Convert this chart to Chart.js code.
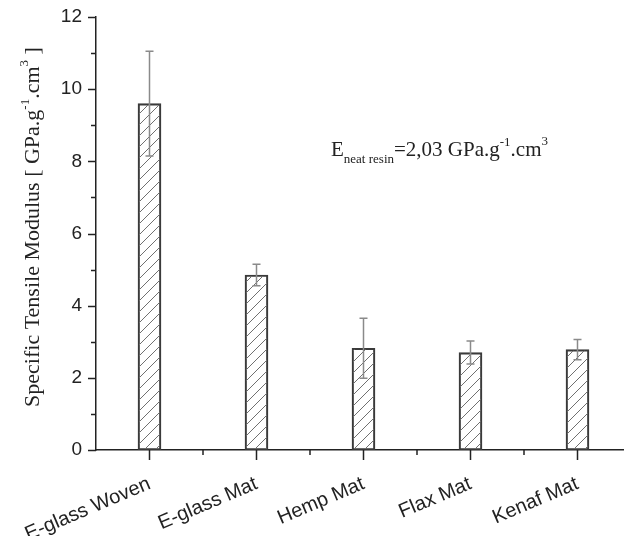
<!DOCTYPE html>
<html>
<head>
<meta charset="utf-8">
<script src="https://cdn.jsdelivr.net/npm/chart.js@4"></script>
<style>
  html, body { margin: 0; padding: 0; background: #fff; overflow: hidden; }
  #wrap { position: relative; width: 640px; height: 536px; }
</style>
</head>
<body>
<div id="wrap"><canvas id="modulusChart"></canvas></div>
<script>
// Chart data
const categories = ['E-glass Woven', 'E-glass Mat', 'Hemp Mat', 'Flax Mat', 'Kenaf Mat'];
const modulusValues = [9.6, 4.85, 2.82, 2.70, 2.78];
const modulusErrors = [1.45, 0.30, 0.83, 0.32, 0.28];
const yTickLabels = [0, 2, 4, 6, 8, 10, 12];

const axisColor = '#222';

// diagonal hatch for the bars
function makeHatch() {
    const s = 11;
    const c = document.createElement('canvas');
    c.width = s; c.height = s;
    const g = c.getContext('2d');
    g.strokeStyle = '#707070';
    g.lineWidth = 1;
    g.beginPath();
    g.moveTo(0, s); g.lineTo(s, 0);
    g.moveTo(-2, 2); g.lineTo(2, -2);
    g.moveTo(s - 2, s + 2); g.lineTo(s + 2, s - 2);
    g.stroke();
    return g.createPattern(c, 'repeat');
}

// error bars, axis ticks and the rich text (super/subscripts)
const extrasPlugin = {
    id: 'extras',
    afterDatasetsDraw(chart) {
        const ctx = chart.ctx;
        const y = chart.scales.y;
        const meta = chart.getDatasetMeta(0);
        ctx.save();
        ctx.strokeStyle = '#8a8a8a';
        ctx.lineWidth = 1.5;
        modulusValues.forEach((v, i) => {
            const x = meta.data[i].x;
            const yt = y.getPixelForValue(v + modulusErrors[i]);
            const yb = y.getPixelForValue(v - modulusErrors[i]);
            ctx.beginPath();
            ctx.moveTo(x, yt); ctx.lineTo(x, yb);
            ctx.moveTo(x - 4, yt); ctx.lineTo(x + 4, yt);
            ctx.moveTo(x - 4, yb); ctx.lineTo(x + 4, yb);
            ctx.stroke();
        });
        ctx.restore();
    },
    afterDraw(chart) {
        const ctx = chart.ctx;
        const area = chart.chartArea;
        const x = chart.scales.x;
        const y = chart.scales.y;
        ctx.save();
        ctx.strokeStyle = axisColor;
        ctx.lineWidth = 1.5;
        ctx.beginPath();
        // y ticks: major on labelled values, minor in between
        for (let v = 0; v <= 12; v++) {
            const py = Math.round(y.getPixelForValue(v)) + 0.5;
            const len = yTickLabels.includes(v) ? 8 : 5;
            ctx.moveTo(area.left - len, py); ctx.lineTo(area.left, py);
        }
        // x ticks: major on categories, minor on the boundaries
        const step = x.getPixelForValue(1) - x.getPixelForValue(0);
        categories.forEach((c, i) => {
            const px = x.getPixelForValue(i);
            ctx.moveTo(px, area.bottom); ctx.lineTo(px, area.bottom + 10);
            const bx = px + step / 2;
            ctx.moveTo(bx, area.bottom); ctx.lineTo(bx, area.bottom + 5);
        });
        ctx.stroke();

        ctx.fillStyle = '#222';
        ctx.textBaseline = 'alphabetic';
        const big = '22px "Liberation Serif", "Times New Roman", serif';
        const small = '13px "Liberation Serif", "Times New Roman", serif';
        const noteBig = '21px "Liberation Serif", "Times New Roman", serif';

        function runWidth(parts) {
            let w = 0;
            parts.forEach(p => { ctx.font = p.f; w += ctx.measureText(p.t).width; });
            return w;
        }
        function drawRun(parts, x0, base) {
            let cx = x0;
            parts.forEach(p => {
                ctx.font = p.f;
                ctx.fillText(p.t, cx, base + (p.dy || 0));
                cx += ctx.measureText(p.t).width;
            });
        }

        // y axis title, rotated
        const titleParts = [
            { t: 'Specific Tensile Modulus [ GPa.g', f: big },
            { t: '-1', f: small, dy: -10 },
            { t: '.cm', f: big },
            { t: '3', f: small, dy: -11 },
            { t: ' ]', f: big }
        ];
        ctx.save();
        ctx.translate(39, 227);
        ctx.rotate(-Math.PI / 2);
        drawRun(titleParts, -runWidth(titleParts) / 2, 0);
        ctx.restore();

        // annotation for the neat resin
        const noteParts = [
            { t: 'E', f: noteBig },
            { t: 'neat resin', f: small, dy: 7 },
            { t: '=2,03 GPa.g', f: noteBig },
            { t: '-1', f: small, dy: -10 },
            { t: '.cm', f: noteBig },
            { t: '3', f: small, dy: -11 }
        ];
        drawRun(noteParts, 331, 156);
        ctx.restore();
    }
};

document.addEventListener('DOMContentLoaded', function() {
    const ctx = document.getElementById('modulusChart').getContext('2d');
    const hatch = makeHatch();

    new Chart(ctx, {
        type: 'bar',
        data: {
            labels: categories,
            datasets: [{
                label: 'Specific Tensile Modulus',
                data: modulusValues,
                backgroundColor: hatch,
                borderColor: '#3a3a3a',
                borderWidth: 1.5,
                borderSkipped: false,
                barThickness: 23
            }]
        },
        options: {
            responsive: true,
            maintainAspectRatio: false,
            animation: false,
            layout: { padding: { left: 0, right: 9, top: 17, bottom: 0 } },
            plugins: {
                legend: { display: false },
                tooltip: { enabled: false }
            },
            scales: {
                x: {
                    offset: true,
                    grid: { display: false },
                    border: { display: true, color: axisColor, width: 1.5 },
                    ticks: {
                        color: '#222',
                        font: { family: '"Liberation Sans", Arial, sans-serif', size: 20 },
                        minRotation: 23,
                        maxRotation: 23,
                        padding: 14,
                        autoSkip: false
                    },
                    afterFit(scale) { scale.height = 86; }
                },
                y: {
                    min: 0,
                    max: 12,
                    grid: { display: false },
                    border: { display: true, color: axisColor, width: 1.5 },
                    ticks: {
                        stepSize: 2,
                        color: '#222',
                        font: { family: '"Liberation Sans", Arial, sans-serif', size: 19, lineHeight: 1 },
                        padding: 6,
                        callback: function(value) {
                            return yTickLabels.includes(value) ? String(value) : '';
                        }
                    },
                    afterFit(scale) { scale.width = 96; }
                }
            }
        },
        plugins: [extrasPlugin]
    });
});
</script>
</body>
</html>
